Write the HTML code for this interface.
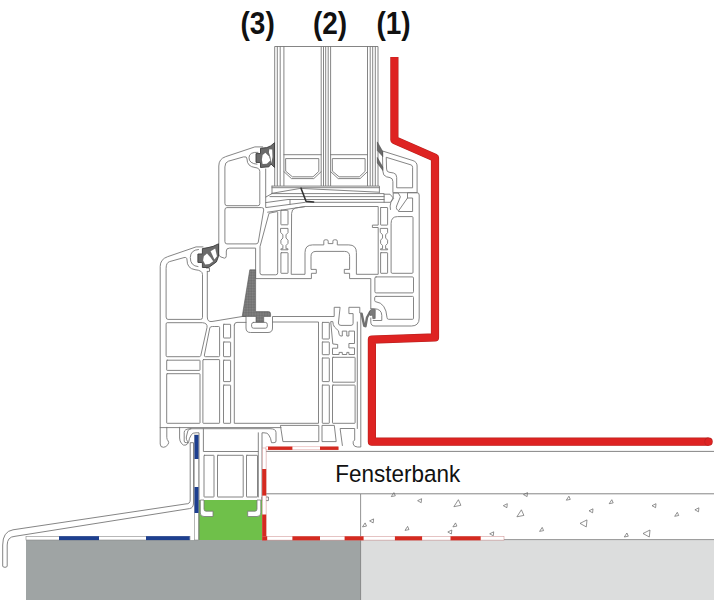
<!DOCTYPE html>
<html><head><meta charset="utf-8">
<style>
html,body{margin:0;padding:0;background:#fff;}
svg{display:block}
text{font-family:"Liberation Sans",Arial,sans-serif;fill:#111}
.p{fill:none;stroke:#777;stroke-width:0.9;stroke-linejoin:round;stroke-linecap:round}
.t{fill:none;stroke:#666;stroke-width:0.8}
.pf{fill:#fff;stroke:#777;stroke-width:0.9;stroke-linejoin:round}
.g{fill:#6a6a6a;stroke:#3c3c3c;stroke-width:0.9;stroke-linejoin:round}
.tri{fill:none;stroke:#666;stroke-width:0.7;stroke-linejoin:round}
</style></head><body>
<svg width="714" height="600" viewBox="0 0 714 600">
<rect width="714" height="600" fill="#fff"/>

<!-- ground blocks -->
<rect x="26" y="540" width="335" height="60" fill="#9fa4a4"/>
<rect x="361" y="540" width="353" height="60" fill="#dcdddd"/>
<line x1="360.6" y1="494" x2="360.6" y2="600" stroke="#888" stroke-width="0.9"/>
<line x1="265" y1="539.6" x2="714" y2="539.6" stroke="#888" stroke-width="0.9"/>
<!-- fensterbank -->
<path class="p" d="M714 451.4 H265.2 V539.6"/>
<path class="p" d="M265.2 493.8 H714"/>
<rect class="pf" x="262" y="497" width="6.4" height="3.6"/>
<g class="tri">
<path d="M391.3 496.6 L395.3 495.8 L393.9 492.6 Z"/>
<path d="M417.6 500.7 L421.6 498.7 L421.2 502.7 Z"/>
<path d="M453.9 506.7 L460.9 505.3 L458.4 499.7 Z"/>
<path d="M503.3 505.7 L507.3 503.7 L506.9 507.7 Z"/>
<path d="M516.9 516.8 L523.9 515.4 L521.4 509.8 Z"/>
<path d="M523.5 494.6 L527.5 492.6 L527.1 496.6 Z"/>
<path d="M566.3 500.2 L570.3 499.4 L568.9 496.2 Z"/>
<path d="M589.0 510.8 L593.0 508.8 L592.6 512.8 Z"/>
<path d="M609.2 503.7 L613.2 502.9 L611.8 499.7 Z"/>
<path d="M580.0 523.4 L587.0 519.9 L586.3 526.9 Z"/>
<path d="M539.6 531.4 L543.6 530.6 L542.2 527.4 Z"/>
<path d="M652.0 505.7 L656.0 503.7 L655.6 507.7 Z"/>
<path d="M674.7 516.3 L678.7 515.5 L677.3 512.3 Z"/>
<path d="M694.9 509.8 L698.9 507.8 L698.5 511.8 Z"/>
<path d="M624.3 537.0 L628.3 536.2 L626.9 533.0 Z"/>
<path d="M643.0 533.5 L650.0 530.0 L649.3 537.0 Z"/>
<path d="M452.9 526.9 L456.9 526.1 L455.5 522.9 Z"/>
<path d="M447.8 532.0 L451.8 530.0 L451.4 534.0 Z"/>
<path d="M405.0 530.4 L409.0 529.6 L407.6 526.4 Z"/>
<path d="M369.6 520.9 L373.6 518.9 L373.2 522.9 Z"/>
<path d="M362.5 526.9 L366.5 526.1 L365.1 522.9 Z"/>
<path d="M489.7 533.8 L493.7 531.8 L493.3 535.8 Z"/>
</g>
<text transform="translate(240.5,33.6) scale(1,1.11)" font-size="28" font-weight="bold">(3)</text>
<text transform="translate(312.9,33.6) scale(1,1.11)" font-size="28" font-weight="bold">(2)</text>
<text transform="translate(376.4,33.6) scale(1,1.11)" font-size="28" font-weight="bold">(1)</text>
<text transform="translate(335.3,482) scale(1,1.075)" font-size="22.5">Fensterbank</text>
<path d="M394.4 57 V140 L435 157.8 V337.4 L371.9 339.6 V441.7 H708.6" fill="none" stroke="#b9221f" stroke-width="8.2" stroke-linejoin="round"/>
<path d="M394.4 57.3 V140 L435 157.8 V337.4 L371.9 339.6 V441.7 H708.6" fill="none" stroke="#de2322" stroke-width="7" stroke-linejoin="round"/>
<circle cx="708.6" cy="441.7" r="4.1" fill="#b9221f"/><circle cx="708.6" cy="441.7" r="3.5" fill="#de2322"/>
<rect x="198" y="500" width="64.3" height="40" fill="#6fc04a"/>
<!-- glass -->
<g class="t">
<line x1="274.7" y1="46.5" x2="274.7" y2="186"/>
<line x1="277.3" y1="46.5" x2="277.3" y2="186"/>
<line x1="280.2" y1="46.5" x2="280.2" y2="186"/>
<line x1="283.9" y1="46.5" x2="283.9" y2="186"/>
<line x1="321.2" y1="46.5" x2="321.2" y2="186"/>
<line x1="323.5" y1="46.5" x2="323.5" y2="186"/>
<line x1="325.7" y1="46.5" x2="325.7" y2="186"/>
<line x1="328.2" y1="46.5" x2="328.2" y2="186"/>
<line x1="330.6" y1="46.5" x2="330.6" y2="186"/>
<line x1="367.5" y1="46.5" x2="367.5" y2="186"/>
<line x1="370.2" y1="46.5" x2="370.2" y2="186"/>
<line x1="372.7" y1="46.5" x2="372.7" y2="186"/>
<line x1="375.3" y1="46.5" x2="375.3" y2="186"/>
<line x1="378" y1="46.5" x2="378" y2="186"/>
<line x1="274.7" y1="46.5" x2="378" y2="46.5"/>
</g>
<path class="p" d="M283.9 154.7 H321.2"/>
<path class="p" d="M286.0 158.6 H318.8 V171.4 L313.0 176.8 H292.4 L286.0 171.4 Z"/>
<path class="p" d="M283.9 171.6 L291.5 178.6 H313.8 L321.2 171.6"/>
<path class="p" d="M330.6 154.7 H367.5"/>
<path class="p" d="M332.70000000000005 158.6 H365.1 V171.4 L359.3 176.8 H339.1 L332.70000000000005 171.4 Z"/>
<path class="p" d="M330.6 171.6 L338.20000000000005 178.6 H360.1 L367.5 171.6"/>
<!-- ===== SASH (upper profile) ===== -->
<!-- packers under glass -->
<path class="p" d="M272 186.1 H379.4 V192.5 M272 186.1 V193.6 M272 187.7 H379.4"/>
<path class="p" d="M272 193.3 L300.4 188.4 L379 192.2" stroke-width="0.6"/>
<path class="p" d="M272 193.6 L265.7 197.1 V207.6 L305.4 202.3 H390.5 L393.6 198.4 L390 194.2 H384.1 M272 193.6 H384.1 V202.3"/>
<path class="p" d="M265.7 202.6 L288 199.5 H384.1 M270 196.6 H384.1 M290 199.5 V204.3"/>
<path d="M301 188.2 L304 196 L306 201.3 L313.6 202" fill="none" stroke="#333" stroke-width="1.6" stroke-linecap="round" stroke-linejoin="round"/>
<!-- outer outline left part -->
<path class="p" d="M262.7 146.9 H254.9 L225.5 156.7 Q218.8 159 218.8 166 V254 Q218.8 256.3 221 257 L224.5 258.2 Q226.5 258 226.3 255.5 V251 Q226.3 248.1 229.5 248.1 H255.6 V278.6 H311.4 V273.3 H316.3 V269.4 H311 V256.4 Q311 251.4 316 251.4 H344.6 Q349.6 251.4 349.6 256.4 V269.4 H344.3 V273.3 H349.6 V278.6 H370.8 V309"/>
<path class="p" d="M265.7 169 V197.1"/>
<path class="p" d="M267.6 212.2 L305.4 206.5"/>
<path class="p" d="M258 152.3 Q249 151.8 249 157.7 Q249 163.6 257 164.2"/>
<!-- S1 -->
<path class="p" d="M224.9 166.5 Q224.9 162.2 228.4 161.2 L243.5 156.9 Q247 156 247 159 Q247 166.5 255 167.5 Q259.8 168 259.8 171.5 V203.7 Q259.8 205.7 257.8 205.7 H226.9 Q224.9 205.7 224.9 203.7 Z"/>
<!-- S2 -->
<path class="p" d="M224.9 209.6 Q224.9 207.6 226.9 207.6 H261.5 Q264.2 207.6 263.7 210 L258.3 242 Q258 243.9 256 243.9 H226.9 Q224.9 243.9 224.9 241.9 Z"/>
<!-- diagonal wall right line + S4 -->
<path class="p" d="M269.4 213.2 L277 211.6 Q277.7 211.5 277.7 212.5 V272.8 Q277.7 274.8 275.7 274.8 H262 Q260 274.8 260 272.8 V247 Z"/>
<!-- left small column -->
<rect class="p" x="280.9" y="210.3" width="7.1" height="14.5" rx="0.4"/>
<path class="p" d="M280.9 228.4 H288.0 V232.68 L286.012 234.82 V238.03 L288.0 240.17000000000002 V243.38 L286.012 245.52 V248.8 H288.0 V249.8 H280.9 V248.8 H282.888 V245.52 L280.9 243.38 V240.17000000000002 L282.888 238.03 V234.82 L280.9 232.68 Z"/>
<rect class="p" x="280.9" y="252.7" width="7.1" height="20.6" rx="0.4"/>
<!-- main chamber -->
<path class="p" d="M291.6 213 Q291.6 209 295.5 208 L305.4 206.5 H378.2 V225.1 H372.4 V227.5 H378.2 V274.3 H356.4 V252.5 Q356.4 244.9 348.8 244.9 H337.3 V241.2 Q337.3 239.8 335.9 239.8 H334.3 Q332.9 239.8 332.9 241.2 V243.6 H328.2 V241.2 Q328.2 239.8 326.8 239.8 H325.2 Q323.8 239.8 323.8 241.2 V244.9 H312.6 Q305 244.9 305 252.5 V274.3 H291.6 Z"/>
<!-- right column -->
<rect class="p" x="380.6" y="207.5" width="7" height="17.6" rx="0.4"/>
<path class="p" d="M380.6 228.4 H387.6 V232.68 L385.64000000000004 234.82 V238.03 L387.6 240.17000000000002 V243.38 L385.64000000000004 245.52 V248.8 H387.6 V249.8 H380.6 V248.8 H382.56 V245.52 L380.6 243.38 V240.17000000000002 L382.56 238.03 V234.82 L380.6 232.68 Z"/>
<rect class="p" x="380.6" y="252.7" width="7" height="20.6" rx="0.4"/>
<!-- R1 -->
<path class="p" d="M391.1 223 Q391.1 216.6 397.5 216.6 H412 Q413 216.6 413 217.6 V272.3 Q413 273.3 412 273.3 H392.1 Q391.1 273.3 391.1 272.3 Z"/>
<!-- R2 -->
<rect class="p" x="374.9" y="276.9" width="38.6" height="16" rx="1.2"/>
<!-- R3 -->
<path class="p" d="M376 296.4 H412.5 Q413.5 296.4 413.5 297.4 V318.3 Q413.5 319.3 412.5 319.3 H388.5 Q387.2 319.3 387 317.5 Q386 303 375.7 301.7 Q374.7 301.6 374.7 300.5 V297.6 Q374.7 296.4 376 296.4 Z"/>
<path class="p" d="M371 308.7 H374 Q381.8 309 381.8 315.5 V320.5 H373.2"/>
<!-- right outer -->
<path class="p" d="M370.8 318 V322 Q370.8 326 375 326 H411.5 Q419.2 326 419.2 318 V195 Q419.2 192.7 417 192.7 H407.5 V198 L398.7 210.7 Q395.6 209.5 396.6 206 L400.4 196.8 L398.3 193 H393.2 V197.5 L390.9 202.2 Q389.6 206 390.4 209.5"/>
<path class="p" d="M407.5 198 H412.6 V211.5 H398.7"/>
<!-- glazing bead -->
<path class="p" d="M382.8 151.1 L413 160.6 Q417.1 162 417.1 166 V192.7 H392.9 V181.5 Q392.9 178.2 390 177.6 L386.5 176.8 Q382.8 175.8 382.8 171.3 Z"/>
<path class="p" d="M386.6 157.4 L411 164.9 Q412.6 165.4 412.6 167.4 V187.8 H396.7 V177.5 Q396.7 173.6 393.5 173 L389 172.2 Q386.6 171.8 386.6 169.5 Z"/>

<!-- ===== FRAME (lower profile) ===== -->
<!-- outer outline -->
<path class="p" d="M203 246.9 H196.1 L167.6 256.7 Q160.2 259.2 160.2 266.5 V444 Q160.2 447.5 163.5 447.3 Q166 447.2 168 444.5 Q169.3 442.5 168.2 441 Q166.8 439.5 166.8 437.5 V427.3"/>
<path class="p" d="M160.2 427.6 H281"/>
<path class="p" d="M207.3 271.4 V317 Q207.3 322.2 212 321.5 L242.2 316.5 H246 V328 Q246 332.5 250.5 332.5 H268 Q272.5 332.5 272.5 328 V316.5 H334.2 V307.3 H340.1 L338.4 323 Q338.4 325.4 341 325.4 H351 Q353.1 325.4 353.1 323.4 V313.6 H348.9 V307.3 H359.8 V313 H360.8 V447 H357.5 Q354 447 353.2 444 Q352.5 441 354.7 440 V428.5 H340.1 L342.4 445.5"/>
<!-- groove inner -->
<rect class="p" x="251.6" y="322.4" width="15.7" height="5.8" rx="2"/>
<!-- F1 -->
<path class="p" d="M166.1 268 Q166.1 262.6 169.6 261.6 L184 257.6 Q187 256.8 187 260 Q187 268.5 195 269.7 Q202.5 270.3 202.5 274.5 V317.4 Q202.5 319.4 200.5 319.4 H168.1 Q166.1 319.4 166.1 317.4 Z"/>
<!-- pocket -->
<path class="p" d="M198.5 249.5 Q190.5 250 190.3 257.5 Q190.3 266 198 266.6"/>
<path class="p" d="M206.4 268 H209.5 V271.4 H207.3"/>
<!-- F2 -->
<path class="p" d="M166.1 323.7 Q166.1 322.7 167.1 322.7 H202.5 Q207.8 323.2 207 327.5 L200.8 355.5 Q200.5 356.7 199.3 356.7 H167.1 Q166.1 356.7 166.1 355.7 Z"/>
<path class="p" d="M214.6 326.5 H218.6 Q219.6 326.5 219.6 327.5 V355.7 Q219.6 356.7 218.6 356.7 H205.5 Q204 356.7 204.4 355 L209.8 328 Q210 326.5 212 326.5 Z"/>
<rect class="p" x="166.7" y="360.2" width="33.3" height="10.2" rx="0.5"/>
<rect class="p" x="166.7" y="373.7" width="33.3" height="49.6" rx="0.5"/>
<rect class="p" x="202.9" y="359.6" width="16.7" height="63.7" rx="0.5"/>
<!-- left column -->
<rect class="p" x="223.5" y="324.3" width="7.1" height="13.7" rx="0.4"/>
<rect class="p" x="223.5" y="342" width="7.1" height="14.7" rx="0.4"/>
<rect class="p" x="223.5" y="360.2" width="7.1" height="21.4" rx="0.4"/>
<rect class="p" x="223.5" y="385.1" width="7.1" height="38.2" rx="0.4"/>
<!-- main chamber -->
<path class="p" d="M234.3 325 Q234.3 322.4 237 322.4 H246 M272.5 322 H318.5 V423.3 H234.3 V325"/>
<!-- right column -->
<rect class="p" x="322.3" y="322.4" width="7" height="16.6" rx="0.4"/>
<rect class="p" x="322.3" y="342" width="7" height="12.7" rx="0.4"/>
<rect class="p" x="322.3" y="358" width="7" height="23.6" rx="0.4"/>
<rect class="p" x="322.3" y="385.1" width="7" height="38.2" rx="0.4"/>
<!-- right chambers -->
<path class="p" d="M331.1 321.6 H332.8 Q333 325 334.5 327 Q337 329.5 338.4 330.7 L339.1 334.2 Q339.5 336 341 336 H342.3 V331.1 H346.8 V336 H348.9 V331.1 H354.5 V343.5 H348.9 V347.9 H354.5 V354.5 H348.9 V352.4 H346.8 V354.5 H342.3 V352.4 H339.1 V354.5 H332.5 V348.2 H337.7 V344.5 L333.2 344 Z"/>
<rect class="p" x="332.5" y="357.3" width="22.6" height="24.9" rx="0.5"/>
<rect class="p" x="332.5" y="385.1" width="22.6" height="38.2" rx="0.5"/>
<path class="p" d="M357.3 322 V428.5"/>
<!-- bottom trapezoids -->
<path class="p" d="M280.8 425.4 H318.8 V441.6 H283.3 Z"/>
<path class="p" d="M322.4 425.4 H334.3 L336.2 441.6 H322.4 Z"/>
<!-- second foot left -->
<path class="p" d="M179.6 427.3 V438 Q179.6 441 181.5 443.5 Q183.5 446 186 445 Q189 443.5 187.5 441.5 Q186 439.5 186.3 437 L187.8 431 Q188.5 428.7 191 428.7"/>

<!-- ===== extension profile + sill ===== -->
<!-- sill -->
<path class="pf" d="M2.7 566 V545 Q2.7 531.5 13 529.8 L186 503.9 Q190.2 504 190.2 500 V442.7 H193.5 V503 Q193.5 508 189.5 508.6 L15 536.3 Q7.2 536.8 7.2 545 V566 Q7.2 567.3 5 567.3 Q2.7 567.3 2.7 566 Z"/>
<!-- clip hooks & top -->
<path class="p" d="M190.5 428.7 H270 Q276 428.7 276 432.5 V441 Q276 442.7 274 442.7 H271.5 Q271 438 268.5 434.5 Q267.5 432.8 264 432.8 H262 V500"/>
<path class="p" d="M190.5 428.7 Q184.2 428.7 184.2 432.5 V441 Q184.2 442.7 186.2 442.7 H188.5 Q189 438 191.5 434.5 Q192.5 432.8 196 432.8 H199 V539.6"/>
<path class="p" d="M203.4 428.7 V451.5 H258.3 V432.8 M258.3 451.5 V497"/>
<rect class="p" x="204" y="455.3" width="10" height="41.7" rx="0.4"/>
<rect class="p" x="217.5" y="455.3" width="25.7" height="41.7" rx="0.4"/>
<rect class="p" x="246.5" y="455.3" width="11" height="41.7" rx="0.4"/>
<!-- feet in green -->
<path d="M200.3 500 V513 Q200.3 516.5 204 516.5 H213 V511.2 H206 Q204 511.2 204 509 V500 Z" fill="#fff" stroke="#777" stroke-width="0.8"/>
<path d="M260.8 500 V513 Q260.8 516.5 257 516.5 H247.7 V511.2 H255 Q257 511.2 257 509 V500 Z" fill="#fff" stroke="#777" stroke-width="0.8"/>

<!-- ===== gaskets ===== -->
<defs>
<pattern id="hatch" width="1.6" height="1.6" patternUnits="userSpaceOnUse"><rect width="1.6" height="1.6" fill="#858585"/><path d="M0 0 H1.6 M0 0 V1.6" stroke="#5a5a5a" stroke-width="0.5"/></pattern>
</defs>
<!-- sash glazing gasket (left of glass) -->
<path class="g" d="M260.5 148.3 L266.8 147.6 Q271 146.5 274.5 142.7 V167.5 L271 164 L268.9 166.8 L260.5 167.5 V162.6 L256 162.4 V153.6 L260.5 153.5 Z"/>
<path d="M262.6 154.9 L265.4 152.8 L268.9 156.3 L270.3 160.5 L266.8 163.7 L262.6 164 L261.9 159.8 Z" fill="#fff"/>
<path d="M269.3 149.2 L272.2 149.6 Q273.2 157 271.3 163.2 Q271 157 268.9 152.6 Z" fill="#fff"/>
<!-- frame gasket -->
<path class="g" d="M202.4 248.6 L208 247.6 Q213 247 218.5 243.8 V256.3 L216.4 261.9 L208.7 267.5 H202.4 V262.6 L197.9 262.4 V254 L202.4 253.9 Z"/>
<path d="M203.8 256.3 L207 253.5 L210.8 257.7 L213.2 261.2 L209.4 264 L205.2 264.4 L203.1 260.5 Z" fill="#fff"/>
<path d="M210.6 251.2 L215.2 248.4 L217 256.3 L214.4 259.4 Z" fill="#fff"/>
<!-- sash lower right gasket -->
<path d="M361.6 313.6 L364.2 325.8 L365.5 326.2 L367 317.5 L370.3 311.5" fill="none" stroke="#707070" stroke-width="2.4" stroke-linejoin="round" stroke-linecap="round"/>
<path d="M369.3 312 L371.5 309.3 L375.3 309.6 L375.2 318.5 L372.8 318.7 L372.5 315.2 L370 315.5 Z" fill="#7a7a7a" stroke="#5a5a5a" stroke-width="0.6" stroke-linejoin="round"/>
<!-- bead gaskets -->
<path d="M377.3 141.9 L382.8 151.5 V156.6 L377.3 150.5 Z M377.3 157.4 L382.8 167.1 V170.5 L377.3 163 Z" fill="#6a6a6a" stroke="#444" stroke-width="0.5"/>
<!-- central seal -->
<path d="M249.8 269.8 H255.6 V311.6 H268.5 Q270.6 311.6 270.6 314 V316.5 H263.7 V322 H256 V316.5 H242.2 Z" fill="url(#hatch)" stroke="#555" stroke-width="0.6"/>

<!-- ===== dashed membranes ===== -->
<!-- blue horizontal -->
<rect x="26" y="536.3" width="164" height="3.7" fill="#fff" stroke="#888" stroke-width="0.6"/>
<rect x="59" y="536.2" width="40" height="3.9" fill="#1d3f8f"/>
<rect x="146" y="536.2" width="43.7" height="3.9" fill="#1d3f8f"/>
<!-- blue vertical -->
<rect x="194.6" y="435" width="3.8" height="105" fill="#fff" stroke="#888" stroke-width="0.6"/>
<rect x="194.5" y="435" width="4" height="24" fill="#1d3f8f"/>
<rect x="194.5" y="487" width="4" height="26" fill="#1d3f8f"/>
<!-- red vertical -->
<rect x="262.3" y="448" width="3.8" height="92" fill="#fff" stroke="#c88" stroke-width="0.5"/>
<rect x="262.2" y="469" width="4" height="26.6" fill="#d42a20"/>
<rect x="262.2" y="514.5" width="4" height="25.8" fill="#d42a20"/>
<!-- red top -->
<rect x="266" y="446.8" width="72.5" height="3" fill="#fff" stroke="#d99" stroke-width="0.5"/>
<rect x="268" y="446.6" width="24.4" height="3.3" fill="#d42a20"/>
<rect x="320" y="446.6" width="18.4" height="3.3" fill="#d42a20"/>
<!-- red bottom -->
<rect x="262.3" y="536.4" width="241.7" height="3.7" fill="#fff" stroke="#c88" stroke-width="0.5"/>
<rect x="262.2" y="536.3" width="5" height="4" fill="#d42a20"/>
<rect x="292.4" y="536.3" width="27.6" height="4" fill="#d42a20"/>
<rect x="344.6" y="536.3" width="19" height="4" fill="#d42a20"/>
<rect x="394.9" y="536.3" width="27.2" height="4" fill="#d42a20"/>
<rect x="450.5" y="536.3" width="30.2" height="4" fill="#d42a20"/>

</svg>
</body></html>
